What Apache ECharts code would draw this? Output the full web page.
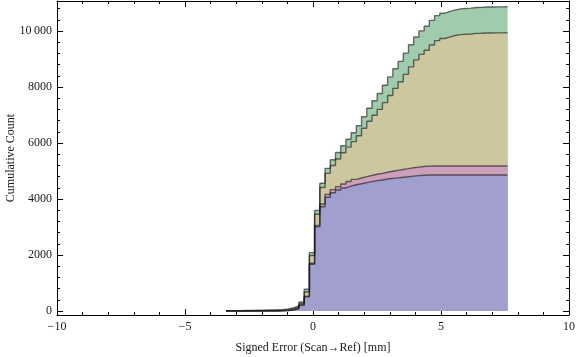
<!DOCTYPE html>
<html>
<head>
<meta charset="utf-8">
<script src="https://cdn.jsdelivr.net/npm/echarts@6/dist/echarts.min.js"></script>
<style>
html, body { margin: 0; padding: 0; background: #fff; }
#chart { width: 576px; height: 357px; }
</style>
</head>
<body>
<div id="chart"></div>
<script>
// bin edges of the signed error (mm), 54 bins from -3.4 to 7.6
var binEdges = [-3.400, -3.196, -2.993, -2.789, -2.585, -2.381, -2.178, -1.974, -1.770, -1.567,
  -1.363, -1.159, -0.956, -0.752, -0.548, -0.344, -0.141, 0.063, 0.267, 0.470,
  0.674, 0.878, 1.081, 1.285, 1.489, 1.693, 1.896, 2.100, 2.304, 2.507,
  2.711, 2.915, 3.119, 3.322, 3.526, 3.730, 3.933, 4.137, 4.341, 4.544,
  4.748, 4.952, 5.156, 5.359, 5.563, 5.767, 5.970, 6.174, 6.378, 6.581,
  6.785, 6.989, 7.193, 7.396, 7.600];

// cumulative count of each group, one value per bin
var blueCounts = [0, 0, 0, 0, 0, 0, 0, 0, 0, 2,
  5, 15, 40, 90, 210, 510, 1670, 3010, 3725, 4060,
  4225, 4320, 4395, 4460, 4510, 4545, 4585, 4620, 4655, 4680,
  4712, 4738, 4755, 4775, 4796, 4818, 4833, 4846, 4857, 4857,
  4857, 4857, 4857, 4857, 4857, 4857, 4857, 4857, 4857, 4857,
  4857, 4857, 4857, 4857];
var pinkCounts = [0, 0, 0, 0, 0, 0, 0, 0, 0, 0,
  0, 0, 2, 2, 5, 20, 35, 48, 95, 105,
  110, 120, 140, 165, 190, 205, 212, 218, 228, 237,
  244, 252, 268, 280, 288, 297, 306, 314, 318, 320,
  322, 322, 322, 322, 322, 322, 322, 322, 322, 322,
  322, 322, 322, 322];
var tanCounts = [3, 3, 3, 8, 8, 10, 10, 15, 18, 18,
  23, 25, 38, 38, 55, 149, 278, 397, 590, 750,
  860, 990, 1119, 1227, 1348, 1508, 1732, 1941, 2108, 2283,
  2484, 2705, 2927, 3130, 3366, 3605, 3831, 4005, 4135, 4325,
  4478, 4553, 4611, 4661, 4692, 4704, 4712, 4735, 4739, 4748,
  4751, 4753, 4755, 4758];
var greenCounts = [5, 5, 5, 12, 12, 15, 15, 20, 22, 25,
  27, 30, 40, 50, 50, 96, 100, 140, 150, 180,
  205, 230, 250, 280, 320, 360, 410, 460, 520, 570,
  620, 665, 700, 730, 760, 790, 815, 840, 860, 878,
  893, 903, 910, 915, 919, 922, 924, 926, 927, 928,
  928, 928, 928, 928];

var yTicks = [0, 2000, 4000, 6000, 8000, 10000];
var yMinorTicks = [400, 800, 1200, 1600, 2400, 2800, 3200, 3600, 4400, 4800, 5200, 5600,
  6400, 6800, 7200, 7600, 8400, 8800, 9200, 9600, 10400, 10800];

var layers = [
  {name: 'blue', counts: blueCounts, color: '#a09fcd'},
  {name: 'pink', counts: pinkCounts, color: '#cd9fba'},
  {name: 'tan', counts: tanCounts, color: '#cdc7a0'},
  {name: 'green', counts: greenCounts, color: '#a0cbac'}
];

// stacked tops, drawn from the top layer down so each fill covers the one above
var running = binEdges.slice(0, -1).map(function () { return 0; });
var series = [];
layers.forEach(function (layer) {
  running = running.map(function (v, i) { return v + layer.counts[i]; });
  var pts = running.map(function (v, i) { return [binEdges[i], v]; });
  pts.push([binEdges[binEdges.length - 1], running[running.length - 1]]);
  series.unshift({
    name: layer.name,
    type: 'line',
    step: 'end',
    showSymbol: false,
    symbol: 'none',
    data: pts,
    lineStyle: {color: 'rgba(20,20,20,0.6)', width: 1.4},
    areaStyle: {color: layer.color, opacity: 1, origin: 0}
  });
});

var font = 'Liberation Serif';
var yMin = -143, yMax = 11071;

function fmtX(v) {
  return v < 0 ? '\u2212' + Math.abs(v) : String(v);
}
function fmtY(v) {
  return v >= 10000 ? '10\u2009000' : String(v);
}

var xCommon = {
  type: 'value', min: -10, max: 10, interval: 5,
  axisLine: {onZero: false, lineStyle: {color: '#000', width: 1}},
  axisTick: {inside: true, length: 6, lineStyle: {color: '#000'}},
  minorTick: {show: true, splitNumber: 5, length: 3, lineStyle: {color: '#000'}},
  splitLine: {show: false}
};
function yAxisDef(pos, ticks, len, labels, line) {
  return {
    type: 'value', min: yMin, max: yMax, position: pos,
    axisLine: {show: line, onZero: false, lineStyle: {color: '#000', width: 1}},
    axisTick: {show: true, inside: true, length: len, customValues: ticks, lineStyle: {color: '#000'}},
    axisLabel: labels ? {
      show: true, customValues: ticks, formatter: fmtY, margin: 5,
      fontFamily: font, fontSize: 12, color: '#1a1a1a'
    } : {show: false},
    splitLine: {show: false}
  };
}

var leftAxis = yAxisDef('left', yTicks, 6, true, true);
leftAxis.name = 'Cumulative Count';
leftAxis.nameLocation = 'middle';
leftAxis.nameGap = 40;
leftAxis.nameMoveOverlap = false;
leftAxis.nameTextStyle = {fontFamily: font, fontSize: 12, color: '#1a1a1a'};

var myChart = echarts.init(document.getElementById('chart'));
myChart.setOption({
  animation: false,
  grid: {left: 57, right: 7, top: 1, bottom: 42, containLabel: false, outerBoundsMode: 'none'},
  xAxis: [
    Object.assign({}, xCommon, {
      position: 'bottom',
      axisLabel: {formatter: fmtX, margin: 6, fontFamily: font, fontSize: 12, color: '#1a1a1a'},
      name: 'Signed Error (Scan\u2192Ref) [mm]',
      nameLocation: 'middle',
      nameGap: 27,
      nameMoveOverlap: false,
      nameTextStyle: {fontFamily: font, fontSize: 12, color: '#1a1a1a'}
    }),
    Object.assign({}, xCommon, {position: 'top', axisLabel: {show: false}})
  ],
  yAxis: [
    leftAxis,
    yAxisDef('right', yTicks, 6, false, true),
    yAxisDef('left', yMinorTicks, 3, false, false),
    yAxisDef('right', yMinorTicks, 3, false, false)
  ],
  series: series
});
</script>
</body>
</html>
